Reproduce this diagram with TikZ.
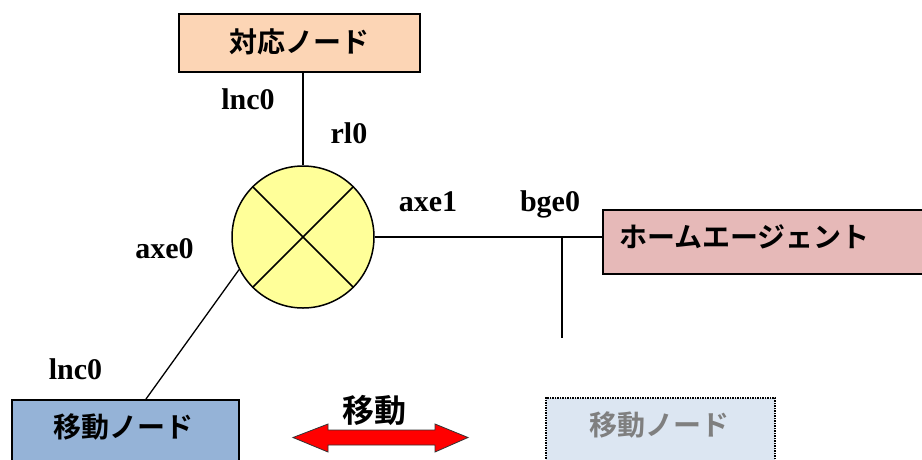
\documentclass[tikz,border=0pt]{standalone}
\usepackage{fontspec}
\setmainfont{Liberation Serif}
\newfontfamily\jp{Noto Sans CJK JP}[BoldFont={Noto Sans CJK JP Bold}]
\definecolor{cnfill}{HTML}{FCD5B5}
\definecolor{rfill}{HTML}{FFFF99}
\definecolor{hafill}{HTML}{E6B9B8}
\definecolor{mnfill}{HTML}{95B3D7}
\definecolor{ghfill}{HTML}{DCE6F2}
\definecolor{ghtext}{HTML}{7F7F7F}
\definecolor{arrred}{HTML}{FF0000}
\tikzset{
  nodebox/.style={draw, line width=1.5pt, inner sep=0pt, rectangle},
  jptext/.style={font=\jp\bfseries\fontsize{28}{32}\selectfont},
  lbl/.style={font=\bfseries\fontsize{30}{34}\selectfont, anchor=base, inner sep=0pt},
  conn/.style={line width=1.3pt},
}
\begin{document}
\begin{tikzpicture}[x=1pt,y=-1pt]
\clip (0,0) rectangle (922,459);
\fill[white] (0,0) rectangle (922,459);
% nodes
\node[nodebox, fill=cnfill, minimum width=241pt, minimum height=58pt] (cn) at (299.5,43) {};
\node[jptext] (cnt) at (299.5,42) {対応ノード};
\node[draw, circle, line width=1.5pt, fill=rfill, minimum size=142pt, inner sep=0pt] (r) at (303,237) {};
\draw[line width=1.5pt] (r.45) -- (r.225) (r.135) -- (r.315);
\node[nodebox, fill=hafill, minimum width=330pt, minimum height=64pt, anchor=north west] (ha) at (602,209) {};
\node[jptext, anchor=west, inner sep=0pt] (hat) at (619,237) {ホームエージェント};
\node[nodebox, fill=mnfill, minimum width=227pt, minimum height=80pt, anchor=north west] (mn) at (11,399) {};
\node[jptext] (mnt) at (123,427) {移動ノード};
\node[nodebox, fill=ghfill, dash pattern=on 1.5pt off 1pt, minimum width=229pt, minimum height=80pt, anchor=north west] (gh) at (545,397) {};
\node[jptext, text=ghtext] (ght) at (659,425) {移動ノード};
% connectors
\draw[conn] (cn.south -| r.north) -- (r.north);
\draw[conn] (r.east) -- (r.east -| ha.west);
\coordinate (bj) at (562,237);
\coordinate (be) at (562,338);
\draw[conn] (bj) -- (be);
\coordinate (mt) at (146,399);
\draw[conn] (mt) -- (r.207);
% labels
\node[lbl] (l1) at (248,109) {lnc0};
\node[lbl] (l2) at (349,143) {rl0};
\node[lbl] (l3) at (428,211) {axe1};
\node[lbl] (l4) at (550,211) {bge0};
\node[lbl] (l5) at (164.5,258) {axe0};
\node[lbl] (l6) at (75.5,379) {lnc0};
% move arrow
\draw[fill=arrred, line width=0.8pt, draw=black!80, line join=miter]
  (293,437.5) -- (328,424) -- (328,430) -- (435,430) -- (435,424) -- (468,437.5)
  -- (435,452) -- (435,445) -- (328,445) -- (328,452) -- cycle;
\node[jptext, font=\jp\bfseries\fontsize{32}{36}\selectfont] (mv) at (374,410) {移動};
\end{tikzpicture}
\end{document}
